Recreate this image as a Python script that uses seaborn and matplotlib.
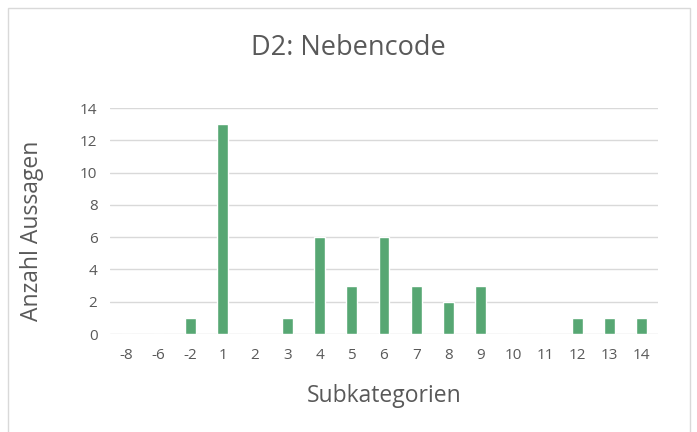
import matplotlib
matplotlib.use("Agg")
import matplotlib.pyplot as plt
import seaborn as sns
import pandas as pd
from matplotlib.patches import Rectangle

categories = ["-8", "-6", "-2", "1", "2", "3", "4", "5", "6", "7", "8", "9", "10", "11", "12", "13", "14"]
values = [0, 0, 1, 13, 0, 1, 6, 3, 6, 3, 2, 3, 0, 0, 1, 1, 1]
y_ticks = [0, 2, 4, 6, 8, 10, 12, 14]

sns.set_theme(style="white")
plt.rcParams['font.family'] = ['Open Sans', 'DejaVu Sans']

df = pd.DataFrame({"Subkategorien": categories, "Anzahl": values})

fig = plt.figure(figsize=(6.97, 4.32), dpi=100)
ax = fig.add_axes([110/697, 1-334/432, (658-110)/697, (334-108)/432])

sns.barplot(data=df, x="Subkategorien", y="Anzahl", order=categories,
            color="#57A773", saturation=1, width=0.34, ax=ax, zorder=3)

ax.set_ylim(0, 14)
ax.set_xlim(-0.5, len(categories) - 0.5)
ax.set_yticks(y_ticks)
ax.yaxis.grid(True, color="#D9D9D9", linewidth=1, zorder=0)
ax.set_axisbelow(True)
for s in ax.spines.values():
    s.set_visible(False)
ax.tick_params(axis="both", length=0, labelsize=11, labelcolor="#595959")
ax.tick_params(axis="x", pad=10)
ax.tick_params(axis="y", pad=9)
ax.set_xlabel("")
ax.set_ylabel("")
fig.text(384/697, 1 - 396/432, "Subkategorien", ha="center", va="center", fontsize=16.5, color="#595959")
fig.text(32/697, 1 - 231/432, "Anzahl Aussagen", ha="center", va="center", rotation=90,
         fontsize=16.5, color="#595959")
fig.text(0.5, 1 - 48/432, "D2: Nebencode", ha="center", va="center", fontsize=19.5, color="#595959")

fig.patches.append(Rectangle((8/697, -0.01), (690-8)/697, 1 - 8/432 + 0.01,
                             transform=fig.transFigure, fill=False,
                             edgecolor="#D9D9D9", linewidth=1))

fig.savefig("out.png", dpi=100)
